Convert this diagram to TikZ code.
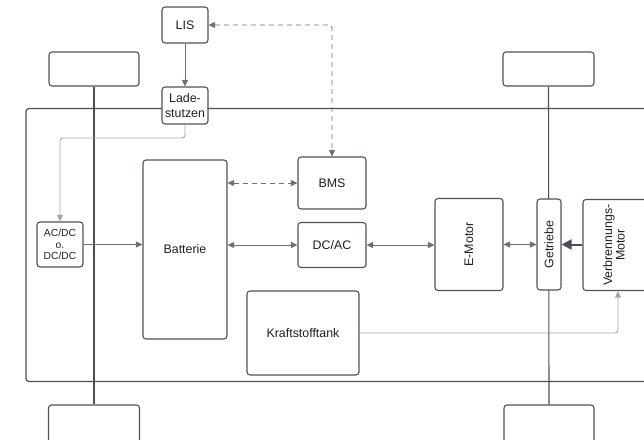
\documentclass[tikz,border=0pt]{standalone}
\usepackage{fontspec}
\setmainfont{Liberation Sans}
\usetikzlibrary{arrows.meta}
\definecolor{boxc}{HTML}{4D5258}
\definecolor{linec}{HTML}{6B7075}
\definecolor{lightc}{HTML}{A3A7AB}
\definecolor{framec}{HTML}{4A4F55}
\definecolor{textc}{HTML}{1F1F1F}
\tikzset{
  blk/.style={draw=boxc, line width=1.1pt, fill=white, rounded corners=3pt,
    inner sep=0pt, align=center, text=textc,
    font=\fontsize{12.4}{14.5}\selectfont},
  smallblk/.style={blk, font=\fontsize{10.3}{11.7}\selectfont},
  wheel/.style={draw=boxc, line width=1.1pt, fill=white, rounded corners=3pt,
    inner sep=0pt},
  conn/.style={draw=linec, line width=0.9pt,
    arrows={-Triangle[length=6.5pt,width=6pt]}},
  biconn/.style={conn, arrows={Triangle[length=6.5pt,width=6pt]-Triangle[length=6.5pt,width=6pt]}},
  faint/.style={conn, draw=lightc},
  dashconn/.style={biconn, dash pattern=on 5pt off 4pt},
  axle/.style={draw=framec, line width=1.1pt},
  powerflow/.style={draw=framec, line width=2pt,
    arrows={-Triangle[length=10pt,width=10pt]}},
}
\begin{document}
\begin{tikzpicture}[x=1pt,y=-1pt]
\useasboundingbox (0,0) rectangle (644,439);
\clip (0,0) rectangle (644,439);

% vehicle frame
\draw[draw=framec, line width=1.2pt, rounded corners=3pt] (26,108.5) rectangle (700,381.5);

% wheels
\node[wheel, minimum width=90pt, minimum height=34pt] (wtl) at (94,69) {};
\node[wheel, minimum width=91pt, minimum height=34pt] (wtr) at (548.5,69) {};
\node[wheel, minimum width=91pt, minimum height=40pt] (wbl) at (94,425) {};
\node[wheel, minimum width=90pt, minimum height=40pt] (wbr) at (549,425) {};

% axles
\draw[axle] (wtl.south) -- (wbl.north);
\draw[axle] (wtr.south) -- (wbr.north);

% components
\node[blk, minimum width=46pt, minimum height=36pt] (lis) at (185,25) {LIS};
\node[blk, minimum width=46pt, minimum height=37pt] (lade) at (185,105.5) {Lade-\\stutzen};
\node[smallblk, minimum width=46pt, minimum height=45pt] (acdc) at (60,244.5) {AC/DC\\o.\\DC/DC};
\node[blk, minimum width=84pt, minimum height=179pt] (bat) at (185,249.5) {Batterie};
\node[blk, minimum width=68pt, minimum height=52pt] (bms) at (332,183) {BMS};
\node[blk, minimum width=68pt, minimum height=45pt] (dcac) at (332,245) {DC/AC};
\node[blk, minimum width=68pt, minimum height=92pt] (emot) at (469,244.5) {\rotatebox{90}{E-Motor}};
\node[blk, minimum width=24pt, minimum height=91pt] (getr) at (549,244.5) {\rotatebox{90}{Getriebe}};
\node[blk, minimum width=70pt, minimum height=91pt] (vm) at (618,245)
  {\hspace*{-5pt}\rotatebox{90}{\begin{tabular}{@{}c@{}}Verbrennungs-\\[-2pt]Motor\end{tabular}}};
\node[blk, minimum width=112pt, minimum height=84pt] (tank) at (303,333) {Kraftstofftank};

\coordinate (split) at (0,138);

% connections
\draw[conn] (lis.south) -- (lade.north);
\draw[faint, rounded corners=3pt] (lade.south) -- (lade.south |- split) -| (acdc.north);
\draw[conn] (acdc.east) -- (acdc.east -| bat.west);
\draw[dashconn, rounded corners=3pt] (lis.east) -| (bms.north);
\draw[dashconn] (bat.east |- bms.west) -- (bms.west);
\draw[biconn] (bat.east |- dcac.west) -- (dcac.west);
\draw[biconn] (dcac.east) -- (dcac.east -| emot.west);
\draw[biconn] (emot.east) -- (emot.east -| getr.west);
\draw[powerflow] (vm.west |- getr.east) -- (getr.east);
\draw[faint, rounded corners=3pt] (tank.east) -| (vm.south);
\end{tikzpicture}
\end{document}
